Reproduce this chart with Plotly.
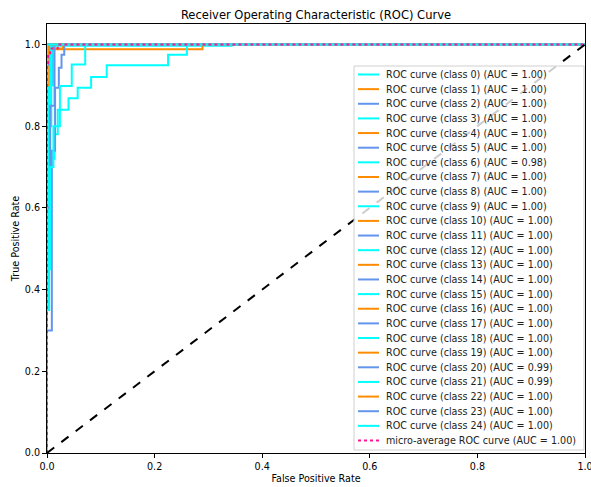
import plotly.graph_objects as go

# ---------------- data ----------------
class_ids = list(range(25))
auc_values = [1.00, 1.00, 1.00, 1.00, 1.00, 1.00, 0.98, 1.00, 1.00, 1.00,
              1.00, 1.00, 1.00, 1.00, 1.00, 1.00, 1.00, 1.00, 1.00, 1.00,
              0.99, 0.99, 1.00, 1.00, 1.00]
micro_auc = 1.00

perfect_fpr = [0, 0, 1]
perfect_tpr = [0, 1, 1]

fpr = {c: perfect_fpr for c in class_ids}
tpr = {c: perfect_tpr for c in class_ids}

fpr[0] = [0, 0, 0.343, 0.343, 1]
tpr[0] = [0, 0.997, 0.997, 1, 1]
fpr[1] = [0, 0, 0.006, 0.006, 0.010, 0.010, 0.0125, 0.0125, 0.289, 0.289, 1]
tpr[1] = [0, 0.816, 0.816, 0.943, 0.943, 0.963, 0.963, 0.988, 0.988, 1, 1]
fpr[2] = [0, 0, 0.010, 0.010, 1]
tpr[2] = [0, 0.90, 0.90, 1, 1]
fpr[3] = [0, 0, 0.003, 0.003, 0.012, 0.012, 1]
tpr[3] = [0, 0.35, 0.35, 0.90, 0.90, 1, 1]
fpr[4] = [0, 0, 0.004, 0.004, 0.030, 0.030, 1]
tpr[4] = [0, 0.90, 0.90, 0.99, 0.99, 1, 1]
fpr[6] = [0, 0, 0.004, 0.004, 0.008, 0.008, 0.014, 0.014, 0.020, 0.020, 0.040, 0.040,
          0.057, 0.057, 0.082, 0.082, 0.111, 0.111, 0.225, 0.225, 0.260, 0.260, 1]
tpr[6] = [0, 0.35, 0.35, 0.55, 0.55, 0.72, 0.72, 0.78, 0.78, 0.84, 0.84, 0.868,
          0.868, 0.894, 0.894, 0.920, 0.920, 0.949, 0.949, 0.975, 0.975, 1, 1]
fpr[9] = [0, 0, 0.004, 0.004, 0.008, 0.008, 1]
tpr[9] = [0, 0.45, 0.45, 0.80, 0.80, 1, 1]
fpr[14] = [0, 0, 0.005, 0.005, 1]
tpr[14] = [0, 0.95, 0.95, 1, 1]
fpr[15] = [0, 0, 0.002, 0.002, 0.006, 0.006, 1]
tpr[15] = [0, 0.50, 0.50, 0.85, 0.85, 1, 1]
fpr[17] = [0, 0, 0.006, 0.006, 0.014, 0.014, 1]
tpr[17] = [0, 0.60, 0.60, 0.85, 0.85, 1, 1]
fpr[20] = [0, 0, 0.009, 0.009, 0.015, 0.015, 0.022, 0.022, 0.027, 0.027, 0.032, 0.032, 1]
tpr[20] = [0, 0.30, 0.30, 0.74, 0.74, 0.894, 0.894, 0.943, 0.943, 0.975, 0.975, 1, 1]
fpr[21] = [0, 0, 0.006, 0.006, 0.012, 0.012, 0.024, 0.024, 0.046, 0.046, 0.071, 0.071, 1]
tpr[21] = [0, 0.45, 0.45, 0.70, 0.70, 0.80, 0.80, 0.898, 0.898, 0.951, 0.951, 1, 1]
fpr[22] = [0, 0, 0.003, 0.003, 1]
tpr[22] = [0, 0.97, 0.97, 1, 1]

micro_fpr = [0, 0, 0.002, 0.002, 0.006, 0.006, 0.020, 0.020, 1]
micro_tpr = [0, 0.95, 0.95, 0.975, 0.975, 0.99, 0.99, 1, 1]

chance_x = [0, 1]
chance_y = [0, 1]

color_cycle = ["aqua", "darkorange", "cornflowerblue"]

# ---------------- figure ----------------
W, H = 591, 487
L, R, T, B = 47, 6, 24, 34
PW, PH = W - L - R, H - T - B
FS = 9.6  # base font size (px)


def px_x(p):
    return (p - L) / PW


def px_y(p):
    return (H - B - p) / PH


fig = go.Figure()
labels = []
for c in class_ids:
    col = color_cycle[c % 3]
    lab = f"ROC curve (class {c}) (AUC = {auc_values[c]:.2f})"
    labels.append((lab, col, "solid"))
    fig.add_trace(go.Scatter(x=fpr[c], y=tpr[c], mode="lines",
                             line=dict(color=col, width=2), name=lab,
                             showlegend=False))

micro_lab = f"micro-average ROC curve (AUC = {micro_auc:.2f})"
fig.add_trace(go.Scatter(x=micro_fpr, y=micro_tpr, mode="lines",
                         line=dict(color="deeppink", width=2, dash="dot"),
                         name=micro_lab, showlegend=False))
labels.append((micro_lab, "deeppink", "dot"))

fig.add_trace(go.Scatter(x=chance_x, y=chance_y, mode="lines",
                         line=dict(color="black", width=2, dash="dash"),
                         showlegend=False))

# custom legend (matplotlib style)
shapes = [dict(type="rect", xref="paper", yref="paper",
               x0=px_x(354), x1=px_x(584), y0=px_y(450), y1=px_y(66),
               line=dict(color="#d0d0d0", width=1),
               fillcolor="rgba(255,255,255,0.8)", layer="above")]
annotations = []
y0, dy = 74.5, 14.64
for i, (lab, col, dash) in enumerate(labels):
    yy = y0 + i * dy
    shapes.append(dict(type="line", xref="paper", yref="paper",
                       x0=px_x(358), x1=px_x(379), y0=px_y(yy), y1=px_y(yy),
                       line=dict(color=col, width=2, dash=dash), layer="above"))
    annotations.append(dict(xref="paper", yref="paper", x=px_x(383.5), y=px_y(yy),
                            text=lab, showarrow=False, xanchor="left",
                            yanchor="middle",
                            font=dict(family="DejaVu Sans", size=FS, color="#222")))

fig.update_layout(
    width=W, height=H,
    margin=dict(l=L, r=R, t=T, b=B, autoexpand=False),
    paper_bgcolor="white", plot_bgcolor="white",
    title=dict(text="Receiver Operating Characteristic (ROC) Curve",
               x=px_x(316), xanchor="center", xref="paper",
               y=1 - 14.5 / H, yanchor="middle",
               font=dict(family="DejaVu Sans", size=FS * 1.2, color="black")),
    font=dict(family="DejaVu Sans", size=FS, color="black"),
    shapes=shapes, annotations=annotations,
)
fig.update_xaxes(range=[0, 1], tickvals=[0, 0.2, 0.4, 0.6, 0.8, 1.0],
                 tickformat=".1f", showgrid=False, zeroline=False,
                 showline=True, linecolor="black", linewidth=1, mirror=True,
                 ticks="outside", ticklen=4, tickcolor="black",
                 automargin=False, ticklabeloverflow="allow",
                 title=dict(text="False Positive Rate", standoff=4,
                            font=dict(size=FS)))
fig.update_yaxes(range=[0, 1.05], tickvals=[0, 0.2, 0.4, 0.6, 0.8, 1.0],
                 tickformat=".1f", showgrid=False, zeroline=False,
                 showline=True, linecolor="black", linewidth=1, mirror=True,
                 ticks="outside", ticklen=4, tickcolor="black",
                 automargin=False,
                 title=dict(text="True Positive Rate", standoff=3,
                            font=dict(size=FS)))

fig.write_html("out.html", config={"displayModeBar": False},
               post_script="document.body.style.margin='0';document.body.style.padding='0';")
